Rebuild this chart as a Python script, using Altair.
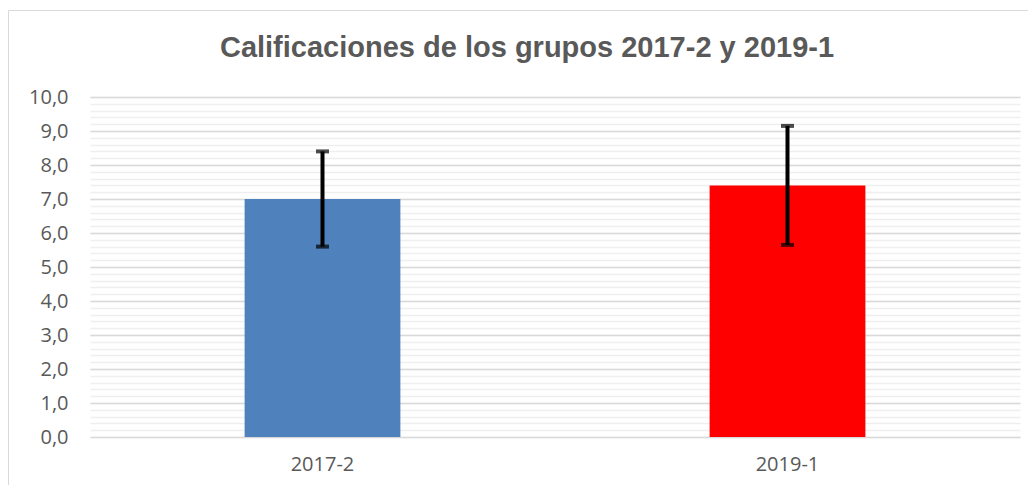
import altair as alt
import pandas as pd

# Data
groups = ["2017-2", "2019-1"]
means = [7.0, 7.4]
lower = [5.6, 5.65]
upper = [8.4, 9.15]
colors = ["#4F81BD", "#FF0000"]

major_ticks = [0, 1, 2, 3, 4, 5, 6, 7, 8, 9, 10]
minor_ticks = [round(i * 0.2, 1) for i in range(51)]

df = pd.DataFrame({"group": groups, "mean": means, "lower": lower, "upper": upper})

label_color = "#595959"
label_font = "Open Sans"

x = alt.X(
    "group:N",
    sort=groups,
    scale=alt.Scale(paddingInner=0.665, paddingOuter=0.3325),
    axis=alt.Axis(title=None, labelAngle=0, ticks=False, domain=False,
                  labelFont=label_font, labelFontSize=20, labelColor=label_color,
                  labelPadding=17),
)
yscale = alt.Scale(domain=[0, 10], nice=False, zero=True)

base = alt.Chart(df)

minor_layer = base.mark_bar(opacity=0).encode(
    x=x,
    y=alt.Y("mean:Q", scale=yscale,
            axis=alt.Axis(orient="left", values=minor_ticks, grid=True, gridColor="#efefef",
                          gridWidth=1.5, labels=False, ticks=False, domain=False, title=None)),
)

bars = base.mark_bar().encode(
    x=x,
    y=alt.Y("mean:Q", scale=yscale,
            axis=alt.Axis(orient="left", values=major_ticks, grid=True, gridColor="#d9d9d9",
                          gridWidth=1.5, ticks=False, domain=False, title=None,
                          labelFont=label_font, labelFontSize=20, labelColor=label_color,
                          labelPadding=22,
                          labelExpr="replace(format(datum.value, '.1f'), '.', ',')")),
    color=alt.Color("group:N", scale=alt.Scale(domain=groups, range=colors), legend=None),
)

err = base.mark_rule(color="black", strokeWidth=4).encode(
    x=x, y=alt.Y("lower:Q", scale=yscale, axis=None), y2="upper:Q"
)
cap_lo = base.mark_tick(color="black", size=13, thickness=4).encode(
    x=x, y=alt.Y("lower:Q", scale=yscale, axis=None)
)
cap_hi = base.mark_tick(color="black", size=13, thickness=4).encode(
    x=x, y=alt.Y("upper:Q", scale=yscale, axis=None)
)

border = alt.Chart(pd.DataFrame({"a": [0]})).mark_rect(
    fillOpacity=0, stroke="#d9d9d9", strokeWidth=1
).encode(x=alt.value(-81.5), x2=alt.value(2000), y=alt.value(-86.5), y2=alt.value(2000))

chart = alt.layer(minor_layer, bars, err, cap_lo, cap_hi, border).resolve_axis(
    y="independent"
).properties(
    width=930,
    height=340,
    autosize=alt.AutoSizeParams(type="none"),
    padding={"left": 82, "top": 89, "right": 8, "bottom": 48},
    title=alt.TitleParams(
        "Calificaciones de los grupos 2017-2 y 2019-1",
        font="Liberation Sans, Arial, sans-serif", fontSize=29, fontWeight="bold",
        color=label_color, anchor="middle", dx=-28, offset=-53,
    ),
).configure_view(stroke=None)

chart.save("out.html", embed_options={"renderer": "svg", "actions": False})
